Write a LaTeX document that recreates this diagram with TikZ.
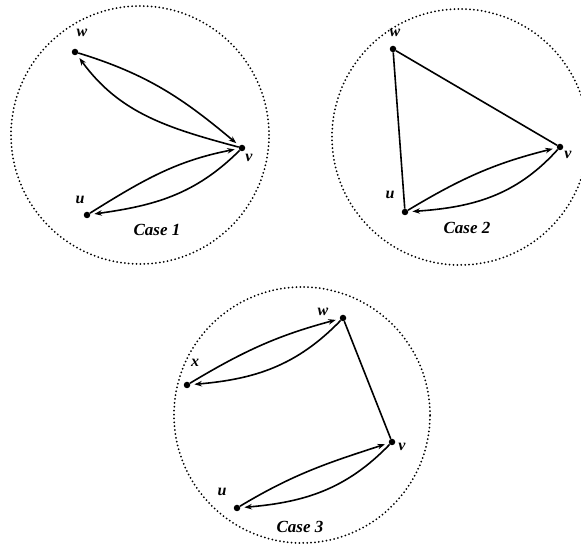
\documentclass[tikz,border=0pt]{standalone}
\usepackage{fontspec}
\setmainfont{Liberation Serif}
\usetikzlibrary{arrows.meta}
\begin{document}
\begin{tikzpicture}[x=1pt,y=1pt,
  vdot/.style={circle,fill=black,inner sep=0pt,minimum size=6.5pt},
  vlabel/.style={inner sep=0pt,font=\fontsize{16}{16}\selectfont\bfseries\itshape},
  caselabel/.style={inner sep=0pt,font=\fontsize{17}{17}\selectfont\bfseries\itshape},
  region/.style={line width=2pt,line cap=round,dash pattern=on 0pt off 3.9pt},
  edge/.style={line width=1.6pt},
  arr/.style={edge,-{Stealth[length=7.5pt,width=5.5pt]},shorten >=4pt}]
\useasboundingbox (0,0) rectangle (581,548);
\clip (0,0) rectangle (581,548);
% regions
\draw[region] (140,413) circle[radius=129];
\draw[region] (460,411) circle[radius=128];
\draw[region] (302,133) circle[radius=128];
% Case 1
\node[vdot] (w1) at (75,496) {};
\node[vdot] (v1) at (242,400) {};
\node[vdot] (u1) at (87,333) {};
\node[vlabel] (lw1) at (82,515) {w};
\node[vlabel] (lv1) at (249,390) {v};
\node[vlabel] (lu1) at (80,348) {u};
\node[caselabel] (c1) at (157,318) {Case 1};
\draw[arr] (w1) to[out=-17,in=140] (v1);
\draw[arr] (v1) to[out=165,in=-54] (w1);
\draw[arr] (u1) to[out=32,in=-169] (v1);
\draw[arr] (v1) to[out=-135,in=8] (u1);
% Case 2
\node[vdot] (w2) at (393,499) {};
\node[vdot] (v2) at (560,401) {};
\node[vdot] (u2) at (405,336) {};
\node[vlabel] (lw2) at (395,515) {w};
\node[vlabel] (lv2) at (568,393) {v};
\node[vlabel] (lu2) at (390,353) {u};
\node[caselabel] (c2) at (467,320) {Case 2};
\draw[edge] (w2) -- (v2);
\draw[edge] (w2) -- (u2);
\draw[arr] (u2) to[out=31,in=-166] (v2);
\draw[arr] (v2) to[out=-132,in=4] (u2);
% Case 3
\node[vdot] (w3) at (343,230) {};
\node[vdot] (v3) at (392,106) {};
\node[vdot] (x3) at (187,163) {};
\node[vdot] (u3) at (237,40) {};
\node[vlabel] (lw3) at (323,236) {w};
\node[vlabel] (lv3) at (402,101) {v};
\node[vlabel] (lx3) at (195,185) {x};
\node[vlabel] (lu3) at (222,56) {u};
\node[caselabel] (c3) at (300,21) {Case 3};
\draw[edge] (w3) -- (v3);
\draw[arr] (x3) to[out=31,in=-165] (w3);
\draw[arr] (w3) to[out=-134,in=5] (x3);
\draw[arr] (u3) to[out=31,in=-162] (v3);
\draw[arr] (v3) to[out=-134,in=5] (u3);
\end{tikzpicture}
\end{document}
